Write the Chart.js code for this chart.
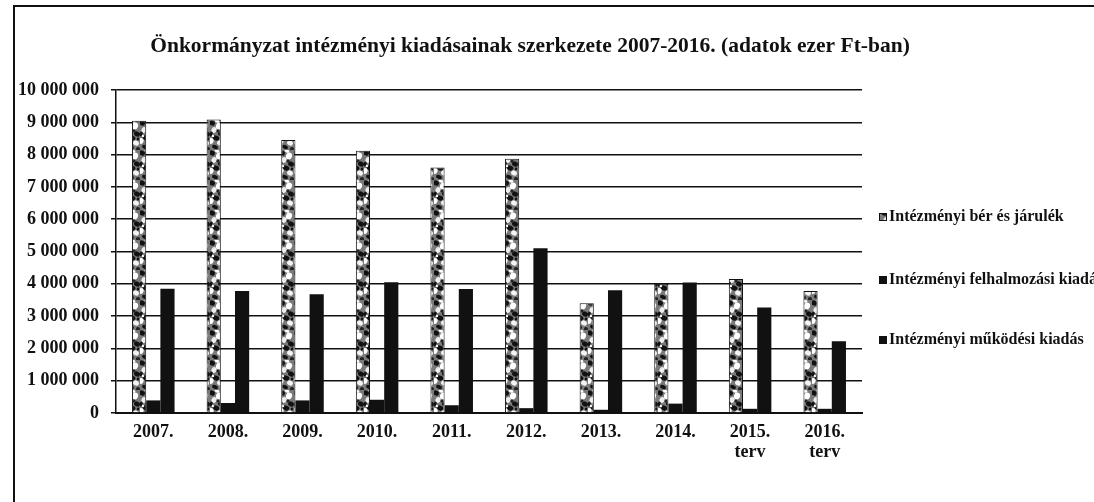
<!DOCTYPE html>
<html>
<head>
<meta charset="utf-8">
<script src="https://cdn.jsdelivr.net/npm/chart.js@4/dist/chart.umd.min.js"></script>
<style>
  html, body { margin: 0; padding: 0; background: #fff; overflow: hidden; }
  #wrap { position: relative; width: 1094px; height: 502px; }
  #frame { position: absolute; left: 13px; top: 5px; right: -5px; bottom: -5px;
           border-left: 2px solid #111; border-top: 2px solid #111; }
  canvas { position: absolute; left: 0; top: 0; }
</style>
</head>
<body>
<div id="wrap">
  <div id="frame"></div>
  <canvas id="chart" width="1094" height="502"></canvas>
</div>
<script>
// Önkormányzat intézményi kiadásai, ezer Ft
const chartTitle = 'Önkormányzat intézményi kiadásainak szerkezete 2007-2016. (adatok ezer Ft-ban)';
const years = [['2007.'], ['2008.'], ['2009.'], ['2010.'], ['2011.'], ['2012.'], ['2013.'], ['2014.'], ['2015.', 'terv'], ['2016.', 'terv']];
const berJarulek = [9050000, 9090000, 8450000, 8120000, 7600000, 7870000, 3400000, 4000000, 4150000, 3780000];
const felhalmozasi = [390000, 310000, 390000, 410000, 240000, 150000, 100000, 290000, 130000, 130000];
const mukodesi = [3850000, 3780000, 3680000, 4050000, 3840000, 5100000, 3800000, 4040000, 3270000, 2220000];
const seriesNames = ['Intézményi bér és járulék', 'Intézményi felhalmozási kiadás', 'Intézményi működési kiadás'];
const yTicks = [0, 1000000, 2000000, 3000000, 4000000, 5000000, 6000000, 7000000, 8000000, 9000000, 10000000];

const serif = '"Liberation Serif", "Times New Roman", serif';

// speckled fill like the scanned bars (fixed blobs, no randomness)
function makeSpeckle() {
  const c = document.createElement('canvas');
  c.width = 14; c.height = 30;
  const g = c.getContext('2d');
  g.fillStyle = '#7a7a7a';
  g.fillRect(0, 0, 14, 30);
  const blobs = [
    [2, 3, 3, 2.5, '#111'], [9, 6, 3, 3.5, '#fff'], [4, 10, 2.5, 3, '#eee'], [11, 14, 3, 2.5, '#111'],
    [6, 18, 3.5, 2.5, '#111'], [1, 21, 2.5, 3, '#fff'], [10, 23, 3, 2.5, '#f4f4f4'], [5, 27, 3, 2, '#111'],
    [12, 29, 2, 2, '#222'], [7, 1, 2.5, 1.5, '#fff'], [1, 14, 1.5, 2.5, '#111'], [8, 11, 1.5, 1.5, '#222'],
    [3, 16, 1.2, 1.2, '#fff'], [12, 19, 1.2, 1.5, '#111']
  ];
  blobs.forEach(([x, y, rx, ry, col]) => {
    g.fillStyle = col;
    g.beginPath();
    g.ellipse(x, y, rx, ry, 0.4, 0, Math.PI * 2);
    g.fill();
  });
  return g.createPattern(c, 'repeat');
}
const speckle = makeSpeckle();

// title + legend drawn by hand: the title sits off-centre and the long
// legend label runs off the page like in the scanned original
const pageText = {
  id: 'pageText',
  afterDraw(chart) {
    const ctx = chart.ctx;
    ctx.save();
    ctx.fillStyle = '#111';
    ctx.textBaseline = 'middle';
    ctx.textAlign = 'center';
    ctx.font = 'bold 21.5px ' + serif;
    ctx.fillText(chartTitle, 530, 46);

    const x = 879, ys = [217, 280, 340];
    ctx.font = 'bold 16px ' + serif;
    ctx.textAlign = 'left';
    chart.data.datasets.forEach((ds, i) => {
      ctx.fillStyle = ds.backgroundColor;
      ctx.fillRect(x, ys[i] - 4, 8, 8);
      ctx.strokeStyle = '#111';
      ctx.lineWidth = 1;
      ctx.strokeRect(x + 0.5, ys[i] - 3.5, 7, 7);
      ctx.fillStyle = '#111';
      ctx.fillText(ds.label, x + 10, ys[i]);
    });
    ctx.restore();
  }
};

new Chart(document.getElementById('chart'), {
  type: 'bar',
  data: {
    labels: years,
    datasets: [
      { label: seriesNames[0], data: berJarulek, backgroundColor: speckle, borderColor: '#111', borderWidth: 1 },
      { label: seriesNames[1], data: felhalmozasi, backgroundColor: '#111' },
      { label: seriesNames[2], data: mukodesi, backgroundColor: '#111' }
    ]
  },
  options: {
    responsive: false,
    animation: false,
    layout: { padding: { left: 0, right: 232, top: 90, bottom: 20 } },
    datasets: { bar: { categoryPercentage: 0.57, barPercentage: 1 } },
    plugins: {
      legend: { display: false },
      tooltip: { enabled: false },
      title: { display: false }
    },
    scales: {
      x: {
        grid: { display: false, drawTicks: false },
        border: { color: '#111', width: 2 },
        ticks: { color: '#111', padding: 10, font: { family: serif, size: 18, weight: 'bold', lineHeight: 1.08 } },
        afterFit: s => { s.height = 69; }
      },
      y: {
        min: 0,
        max: 10000000,
        afterBuildTicks: s => { s.ticks = yTicks.map(v => ({ value: v })); },
        grid: { color: '#111', lineWidth: 1.5, tickLength: 5 },
        border: { color: '#111', width: 1.5 },
        ticks: {
          color: '#111',
          padding: 12,
          font: { family: serif, size: 18, weight: 'bold' },
          callback: v => v.toString().replace(/\B(?=(\d{3})+(?!\d))/g, ' ')
        },
        afterFit: s => { s.width = 116; }
      }
    }
  },
  plugins: [pageText]
});
</script>
</body>
</html>
